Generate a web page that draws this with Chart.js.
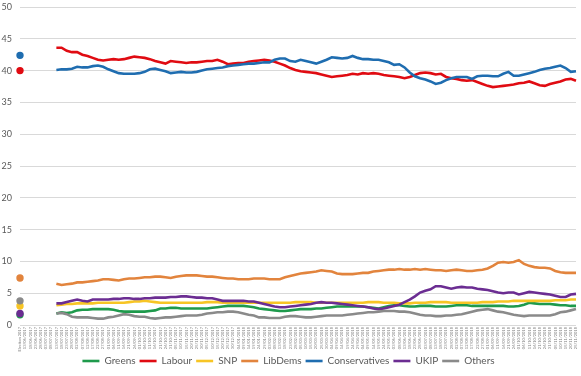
<!DOCTYPE html>
<html>
<head>
<meta charset="utf-8">
<title>Encuestas</title>
<script src="https://cdn.jsdelivr.net/npm/chart.js@4/dist/chart.umd.min.js"></script>
<style>
  html, body { margin: 0; padding: 0; background: #fff; }
  #chartEncuestas { display: block; }
</style>
</head>
<body>
<canvas id="chartEncuestas" width="581" height="376"></canvas>
<script>
// fechas del eje x (la primera es el resultado de la eleccion)
const fechas = [
  "Election 2017",
  "13/06/2017", "18/06/2017", "23/06/2017", "28/06/2017",
  "03/07/2017", "08/07/2017", "13/07/2017", "18/07/2017", "23/07/2017", "28/07/2017",
  "02/08/2017", "07/08/2017", "12/08/2017", "17/08/2017", "22/08/2017", "27/08/2017",
  "01/09/2017", "06/09/2017", "11/09/2017", "16/09/2017", "21/09/2017", "26/09/2017",
  "01/10/2017", "06/10/2017", "11/10/2017", "16/10/2017", "21/10/2017", "26/10/2017", "31/10/2017",
  "05/11/2017", "10/11/2017", "15/11/2017", "20/11/2017", "25/11/2017", "30/11/2017",
  "05/12/2017", "10/12/2017", "15/12/2017", "20/12/2017", "25/12/2017", "30/12/2017",
  "04/01/2018", "09/01/2018", "14/01/2018", "19/01/2018", "24/01/2018", "29/01/2018",
  "03/02/2018", "08/02/2018", "13/02/2018", "18/02/2018", "23/02/2018", "28/02/2018",
  "05/03/2018", "10/03/2018", "15/03/2018", "20/03/2018", "25/03/2018", "30/03/2018",
  "04/04/2018", "09/04/2018", "14/04/2018", "19/04/2018", "24/04/2018", "29/04/2018",
  "04/05/2018", "09/05/2018", "14/05/2018", "19/05/2018", "24/05/2018", "29/05/2018",
  "03/06/2018", "08/06/2018", "13/06/2018", "18/06/2018", "23/06/2018", "28/06/2018",
  "03/07/2018", "08/07/2018", "13/07/2018", "18/07/2018", "23/07/2018", "28/07/2018",
  "02/08/2018", "07/08/2018", "12/08/2018", "17/08/2018", "22/08/2018", "27/08/2018",
  "01/09/2018", "06/09/2018", "11/09/2018", "16/09/2018", "21/09/2018", "26/09/2018",
  "01/10/2018", "06/10/2018", "11/10/2018", "16/10/2018", "21/10/2018", "26/10/2018", "31/10/2018",
  "05/11/2018", "10/11/2018", "15/11/2018", "20/11/2018", "25/11/2018",
];

const partidos = ["Greens", "Labour", "SNP", "LibDems", "Conservatives", "UKIP", "Others"];
const colores = ["#1e9a4c", "#e00b12", "#f7c525", "#e2843d", "#1f6db0", "#6b2d92", "#8a8a8a"];

// resultado de la eleccion 2017, mismo orden que partidos
const eleccion2017 = [1.6, 40.0, 3.0, 7.4, 42.4, 1.8, 3.8];

// media movil de encuestas
const greens = [
  1.8, 2.0, 1.9, 2.0, 2.3, 2.4, 2.4, 2.5, 2.5, 2.5,
  2.5, 2.4, 2.2, 2.1, 2.1, 2.1, 2.1, 2.1, 2.2, 2.3,
  2.6, 2.6, 2.7, 2.7, 2.6, 2.6, 2.6, 2.6, 2.6, 2.6,
  2.7, 2.8, 2.9, 3.0, 3.0, 3.0, 3.0, 2.9, 2.8, 2.6,
  2.5, 2.4, 2.3, 2.2, 2.2, 2.3, 2.4, 2.5, 2.5, 2.5,
  2.6, 2.6, 2.7, 2.8, 2.9, 2.9, 2.9, 2.9, 2.9, 2.9,
  2.8, 2.7, 2.6, 2.8, 3.0, 3.1, 3.1, 3.0, 2.9, 2.9,
  3.0, 3.0, 3.0, 2.9, 2.9, 2.9, 3.0, 3.1, 3.1, 3.1,
  3.0, 3.0, 3.0, 3.0, 3.0, 3.0, 3.0, 2.9, 2.9, 3.0,
  3.2, 3.5, 3.4, 3.3, 3.3, 3.3, 3.2, 3.1, 3.1, 3.0,
  3.0,
];
const labour = [
  43.6, 43.6, 43.1, 42.9, 42.9, 42.5, 42.3, 42.0, 41.7, 41.6,
  41.7, 41.8, 41.7, 41.8, 42.0, 42.2, 42.1, 42.0, 41.8, 41.5,
  41.3, 41.1, 41.5, 41.4, 41.3, 41.2, 41.3, 41.3, 41.4, 41.5,
  41.5, 41.7, 41.4, 41.0, 41.1, 41.2, 41.2, 41.4, 41.5, 41.6,
  41.7, 41.6, 41.4, 41.1, 40.8, 40.4, 40.1, 39.9, 39.8, 39.7,
  39.6, 39.4, 39.2, 39.0, 39.1, 39.2, 39.3, 39.5, 39.4, 39.6,
  39.5, 39.6, 39.5, 39.3, 39.2, 39.1, 39.0, 38.8, 39.0, 39.3,
  39.6, 39.7, 39.6, 39.4, 39.5, 39.0, 38.8, 38.7, 38.5, 38.4,
  38.5, 38.2, 37.9, 37.6, 37.4, 37.5, 37.6, 37.7, 37.8, 38.0,
  38.1, 38.3, 38.0, 37.7, 37.6, 37.9, 38.1, 38.3, 38.6, 38.7,
  38.4,
];
const snp = [
  3.1, 3.2, 3.3, 3.3, 3.4, 3.4, 3.4, 3.4, 3.5, 3.5,
  3.5, 3.5, 3.5, 3.5, 3.6, 3.7, 3.7, 3.8, 3.7, 3.6,
  3.5, 3.5, 3.5, 3.5, 3.5, 3.5, 3.5, 3.5, 3.5, 3.6,
  3.6, 3.6, 3.5, 3.5, 3.5, 3.5, 3.5, 3.5, 3.5, 3.5,
  3.5, 3.5, 3.5, 3.5, 3.5, 3.5, 3.6, 3.6, 3.6, 3.6,
  3.5, 3.5, 3.5, 3.5, 3.5, 3.5, 3.5, 3.5, 3.5, 3.5,
  3.6, 3.6, 3.6, 3.5, 3.5, 3.5, 3.4, 3.4, 3.4, 3.5,
  3.5, 3.5, 3.6, 3.6, 3.6, 3.6, 3.5, 3.5, 3.5, 3.5,
  3.5, 3.5, 3.6, 3.6, 3.6, 3.7, 3.7, 3.7, 3.8, 3.8,
  3.8, 3.8, 3.8, 3.8, 3.8, 3.8, 3.9, 3.9, 3.9, 4.0,
  4.0,
];
const libdems = [
  6.5, 6.3, 6.4, 6.5, 6.7, 6.7, 6.8, 6.9, 7.0, 7.2,
  7.2, 7.1, 7.0, 7.2, 7.3, 7.3, 7.4, 7.5, 7.5, 7.6,
  7.6, 7.5, 7.4, 7.6, 7.7, 7.8, 7.8, 7.8, 7.7, 7.6,
  7.6, 7.5, 7.4, 7.3, 7.3, 7.2, 7.2, 7.2, 7.3, 7.3,
  7.3, 7.2, 7.2, 7.2, 7.5, 7.7, 7.9, 8.1, 8.2, 8.3,
  8.4, 8.6, 8.5, 8.4, 8.1, 8.0, 8.0, 8.0, 8.1, 8.2,
  8.2, 8.4, 8.5, 8.6, 8.7, 8.7, 8.8, 8.7, 8.7, 8.8,
  8.7, 8.8, 8.7, 8.6, 8.6, 8.5, 8.6, 8.7, 8.6, 8.5,
  8.5, 8.6, 8.7, 8.9, 9.3, 9.8, 9.9, 9.8, 9.9, 10.2,
  9.6, 9.3, 9.1, 9.0, 9.0, 8.9, 8.5, 8.3, 8.2, 8.2,
  8.2,
];
const conservatives = [
  40.1, 40.2, 40.2, 40.3, 40.6, 40.5, 40.5, 40.7, 40.8, 40.6,
  40.2, 39.9, 39.6, 39.5, 39.5, 39.5, 39.6, 39.8, 40.2, 40.3,
  40.1, 39.9, 39.6, 39.7, 39.8, 39.7, 39.7, 39.8, 40.0, 40.2,
  40.3, 40.4, 40.5, 40.7, 40.8, 40.9, 41.0, 41.1, 41.1, 41.2,
  41.3, 41.3, 41.7, 41.9, 41.9, 41.5, 41.4, 41.7, 41.5, 41.3,
  41.1, 41.4, 41.7, 42.1, 42.0, 41.9, 42.0, 42.3, 42.0, 41.8,
  41.8, 41.7, 41.7, 41.5, 41.3, 40.9, 41.0, 40.5, 39.7, 39.1,
  38.8, 38.6, 38.3, 37.9, 38.1, 38.5, 38.8, 39.0, 39.0, 39.0,
  38.7, 39.1, 39.2, 39.2, 39.1, 39.1, 39.5, 39.8, 39.2, 39.2,
  39.4, 39.6, 39.8, 40.1, 40.3, 40.4, 40.6, 40.8, 40.4, 39.8,
  39.9,
];
const ukip = [
  3.4, 3.4, 3.6, 3.8, 4.0, 3.8, 3.7, 4.0, 4.0, 4.0,
  4.0, 4.1, 4.1, 4.2, 4.2, 4.1, 4.1, 4.2, 4.2, 4.3,
  4.3, 4.3, 4.4, 4.4, 4.5, 4.5, 4.4, 4.3, 4.3, 4.2,
  4.2, 4.0, 3.8, 3.8, 3.8, 3.8, 3.8, 3.7, 3.7, 3.5,
  3.3, 3.1, 2.9, 2.8, 2.8, 2.9, 3.0, 3.1, 3.2, 3.3,
  3.5, 3.6, 3.5, 3.5, 3.4, 3.3, 3.2, 3.1, 3.0, 2.9,
  2.8, 2.6, 2.5, 2.6, 2.8, 3.0, 3.2, 3.6, 4.0, 4.5,
  5.1, 5.4, 5.6, 6.1, 6.1, 5.9, 5.7, 5.9, 6.0, 5.9,
  5.9, 5.7, 5.6, 5.5, 5.3, 5.1, 5.0, 5.1, 5.1, 4.8,
  5.0, 5.2, 5.1, 5.0, 4.9, 4.8, 4.6, 4.4, 4.4, 4.8,
  4.9,
];
const others = [
  1.8, 1.9, 1.7, 1.3, 1.2, 1.2, 1.2, 1.1, 1.0, 1.0,
  1.2, 1.3, 1.5, 1.7, 1.6, 1.4, 1.3, 1.3, 1.1, 1.0,
  1.1, 1.2, 1.2, 1.3, 1.4, 1.5, 1.5, 1.5, 1.6, 1.8,
  1.9, 2.0, 2.0, 2.1, 2.1, 2.0, 1.8, 1.6, 1.5, 1.2,
  1.2, 1.1, 1.1, 1.1, 1.3, 1.4, 1.4, 1.3, 1.2, 1.2,
  1.3, 1.4, 1.5, 1.5, 1.5, 1.5, 1.6, 1.7, 1.8, 1.9,
  2.0, 2.0, 2.1, 2.2, 2.2, 2.2, 2.1, 2.1, 2.0, 1.8,
  1.6, 1.5, 1.5, 1.4, 1.4, 1.5, 1.5, 1.6, 1.7, 1.9,
  2.1, 2.3, 2.4, 2.5, 2.3, 2.1, 2.0, 1.8, 1.6, 1.5,
  1.4, 1.5, 1.5, 1.5, 1.5, 1.5, 1.7, 2.0, 2.1, 2.3,
  2.5,
];

const series = [greens, labour, snp, libdems, conservatives, ukip, others];

// punto de la eleccion + huecos hasta que empieza la media
function armarDatos(resultado, valores) {
  const huecos = fechas.length - 1 - valores.length;
  return [resultado, ...new Array(huecos).fill(null), ...valores];
}

const datasets = partidos.map((nombre, i) => ({
  label: nombre,
  data: armarDatos(eleccion2017[i], series[i]),
  borderColor: colores[i],
  backgroundColor: colores[i],
  borderWidth: 2.6,
  pointRadius: (ctx) => (ctx.dataIndex === 0 ? 2.4 : 0),
  pointHoverRadius: 0,
  pointBorderWidth: 2.6,
  tension: 0,
  order: partidos.length - i,
}));

new Chart(document.getElementById("chartEncuestas"), {
  type: "line",
  data: { labels: fechas, datasets: datasets },
  options: {
    responsive: false,
    animation: false,
    layout: { padding: { top: 7, right: 4, left: 0, bottom: 0 } },
    plugins: {
      title: { display: false },
      tooltip: { enabled: false },
      legend: {
        position: "bottom",
        labels: {
          usePointStyle: true,
          pointStyle: "line",
          pointStyleWidth: 17,
          boxHeight: 10,
          padding: 4,
          color: "#595959",
          font: { family: "Lato", size: 10 },
          sort: (a, b) => a.datasetIndex - b.datasetIndex,
        },
      },
    },
    scales: {
      x: {
        offset: false,
        grid: { display: false, drawTicks: false },
        border: { display: false },
        ticks: {
          autoSkip: false,
          minRotation: 90,
          maxRotation: 90,
          padding: 2,
          color: "#7f7f7f",
          font: { family: "Lato", size: 4 },
        },
        afterFit: (escala) => {
          escala.height = 27;
          escala.paddingLeft = 0;
          escala.paddingRight = 0;
        },
      },
      y: {
        min: 0,
        max: 50,
        grid: { color: "#d9d9d9", lineWidth: 1, drawTicks: false },
        border: { display: false },
        ticks: {
          stepSize: 5,
          padding: 8,
          color: "#595959",
          font: { family: "Lato", size: 9 },
        },
        afterFit: (escala) => {
          escala.width = 20;
          escala.paddingTop = 0;
          escala.paddingBottom = 0;
        },
      },
    },
  },
});
</script>
</body>
</html>
